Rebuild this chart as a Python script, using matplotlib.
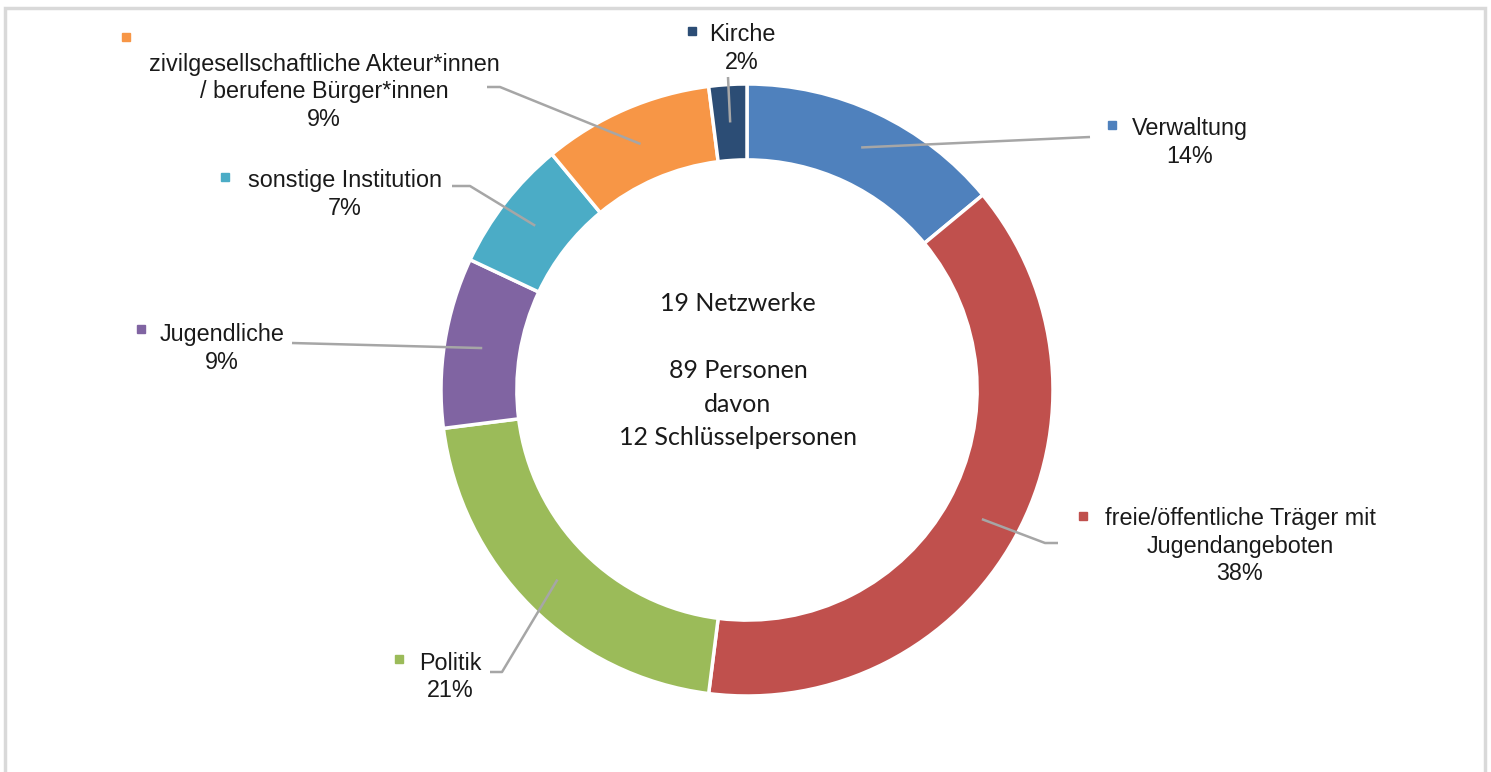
import numpy as np
import matplotlib.pyplot as plt
import matplotlib.patches as mpatches

# Data (clockwise from 12 o'clock)
categories = ['Verwaltung', 'freie/öffentliche Träger mit\nJugendangeboten', 'Politik',
              'Jugendliche', 'sonstige Institution',
              'zivilgesellschaftliche Akteur*innen\n/ berufene Bürger*innen', 'Kirche']
shares = [14, 38, 21, 9, 7, 9, 2]
colors = ['#4F81BD', '#C0504D', '#9BBB59', '#8064A2', '#4BACC6', '#F79646', '#2C4D75']
center_lines = ['19 Netzwerke', '', '89 Personen', 'davon', '12 Schlüsselpersonen']

# Layout in pixel units of the 1491x772 picture
W, H = 1491, 772
CX, CY, R = 747, 390, 306

# label centre (x, y of first line), marker (x, y), leader path after wedge point
layout = [
    dict(text=(1190, 129), marker=(1112, 125), path=[(1090, 137)]),
    dict(text=(1240, 519), marker=(1083, 516), path=[(1045, 543), (1058, 543)]),
    dict(text=(450, 663), marker=(399, 659), path=[(502, 672), (490, 672)]),
    dict(text=(222, 335), marker=(141, 329), path=[(292, 343)]),
    dict(text=(345, 181), marker=(225, 177), path=[(470, 186), (452, 186)]),
    dict(text=(324, 64), marker=(126, 37), path=[(500, 87), (487, 87)]),
    dict(text=(742, 35), marker=(692, 31), path=[(728, 77)]),
]


def to_data(px, py):
    return (px - CX) / R, (CY - py) / R


fig = plt.figure(figsize=(W / 100, H / 100), dpi=100)
ax = fig.add_axes([0, 0, 1, 1])
ax.axis('off')

ax.pie(shares, colors=colors, startangle=90, counterclock=False, radius=1,
       wedgeprops=dict(width=0.248, edgecolor='white', linewidth=2.5))
ax.set_xlim(-CX / R, (W - CX) / R)
ax.set_ylim(-(H - CY) / R, CY / R)
ax.set_aspect('auto')

font = 'Liberation Sans'
fs = 16.8
line_h = 27.5
cum = np.cumsum([0] + shares[:-1])
for i, (cat, val) in enumerate(zip(categories, shares)):
    lay = layout[i]
    theta = np.deg2rad(90 - 360 * (cum[i] + val / 2) / 100)
    rmid = 1 - 0.248 / 2
    pts = [(rmid * np.cos(theta), rmid * np.sin(theta))] + [to_data(*p) for p in lay['path']]
    xs, ys = zip(*pts)
    ax.plot(xs, ys, color='#A6A6A6', lw=1.8, solid_capstyle='butt', zorder=3)

    label = cat + '\n' + f'{val}%'
    tx, ty = lay['text']
    for k, line in enumerate(label.split('\n')):
        x, y = to_data(tx, ty + k * line_h)
        ax.text(x, y, line, ha='center', va='center', fontsize=fs,
                family=font, color='#1A1A1A')
    mx, my = to_data(*lay['marker'])
    ax.plot(mx, my, marker='s', ms=5.5, color=colors[i], ls='none')

# centre text
for k, line in enumerate(center_lines):
    x, y = to_data(738, 304 + k * 33.5)
    ax.text(x, y, line, ha='center', va='center', fontsize=18,
            family='Lato', color='#1A1A1A')

# chart frame
frame = mpatches.Rectangle((5 / W, -0.05), (1485 - 5) / W, 1.05 - 8 / H,
                           transform=fig.transFigure, fill=False,
                           edgecolor='#D9D9D9', lw=2.5, clip_on=False)
fig.patches.append(frame)

fig.savefig('out.png', dpi=100)
